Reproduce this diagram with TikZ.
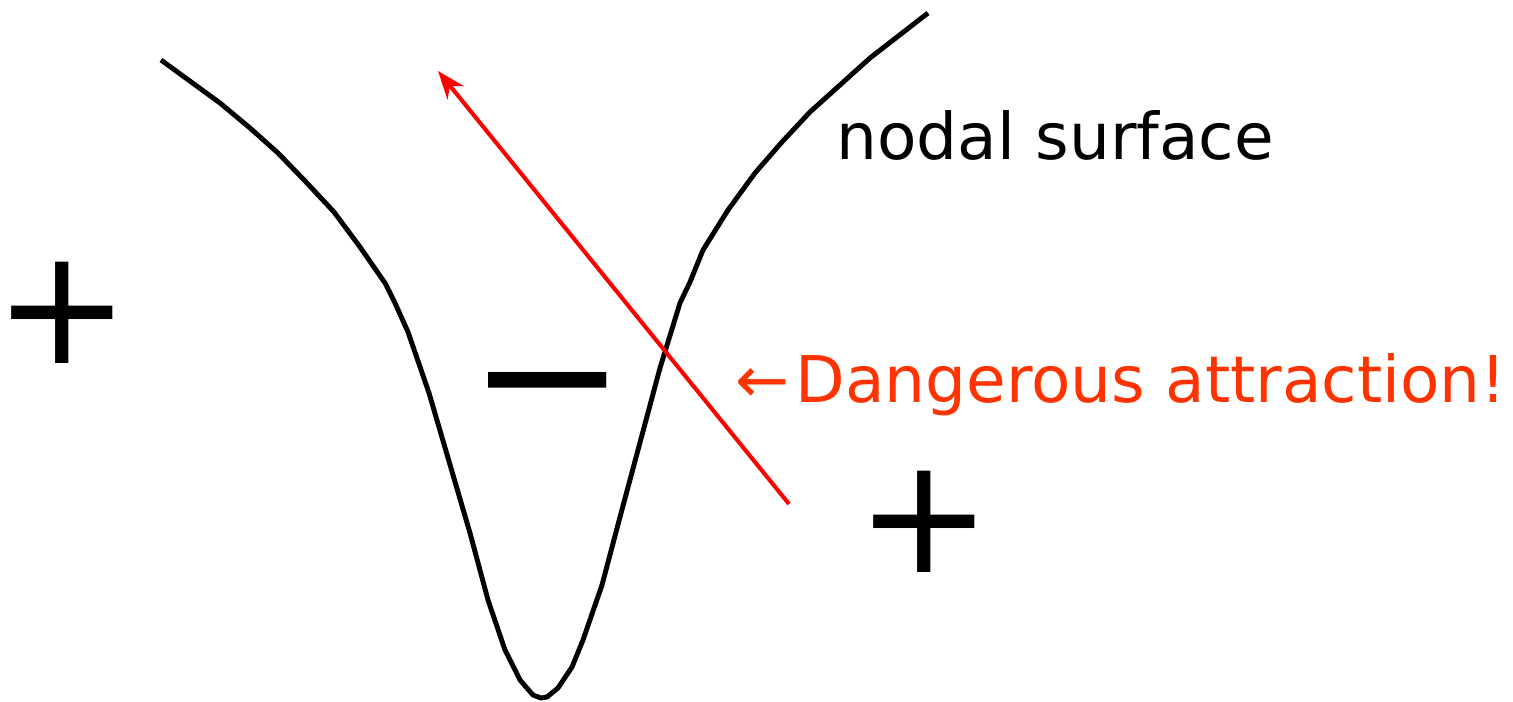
\documentclass[tikz,border=0pt]{standalone}
\usepackage{fontspec}
\setmainfont{DejaVu Sans}
\usepackage{tikz}
\usetikzlibrary{arrows.meta, positioning}
\definecolor{warnred}{HTML}{FF3300}

\begin{document}
\begin{tikzpicture}[x=0.02cm, y=-0.02cm,
    sign/.style={inner ysep=0pt, inner xsep=-12pt, anchor=base, font=\fontsize{92}{92}\selectfont},
    lbl/.style={inner sep=0pt, anchor=base west, font=\fontsize{36.7}{40}\selectfont}]
  \useasboundingbox (0,0) rectangle (1513,702);

  % Nodal surface
  \draw[line width=2.8pt, line join=round] plot coordinates {
    (161,60) (220,103) (250,128) (278,153) (306,182) (334,212) (360,247)
    (385,283) (395,303) (408,332) (429,393) (470,533) (488,600) (505,650)
    (520,680) (533,695) (541,698) (547,697) (558,688) (572,667) (583,640)
    (602,585) (620,517) (660,368) (680,303) (690,282) (703,250) (728,210)
    (755,173) (782,142) (810,112) (840,85) (870,58) (928,13)};

  % Signs of the wave function
  \node[sign] (plusL) at (62,363) {+};
  \node[sign] (plusR) at (924,572) {+};
  \node[sign, font=\fontsize{107.5}{108}\selectfont] (minus) at (548,439) {−};

  % Labels
  \node[lbl] (nodal) at (836,160) {nodal surface};
  \node[lbl, text=warnred] (danger) at (735,402) {←\kern3.5pt Dangerous attraction!};

  % Walker move
  \coordinate (from) at (789,504);
  \coordinate (to) at (438,71);
  \draw[red, line width=2.3pt, -{Stealth[length=16pt, width=12pt]}] (from) -- (to);
\end{tikzpicture}
\end{document}
